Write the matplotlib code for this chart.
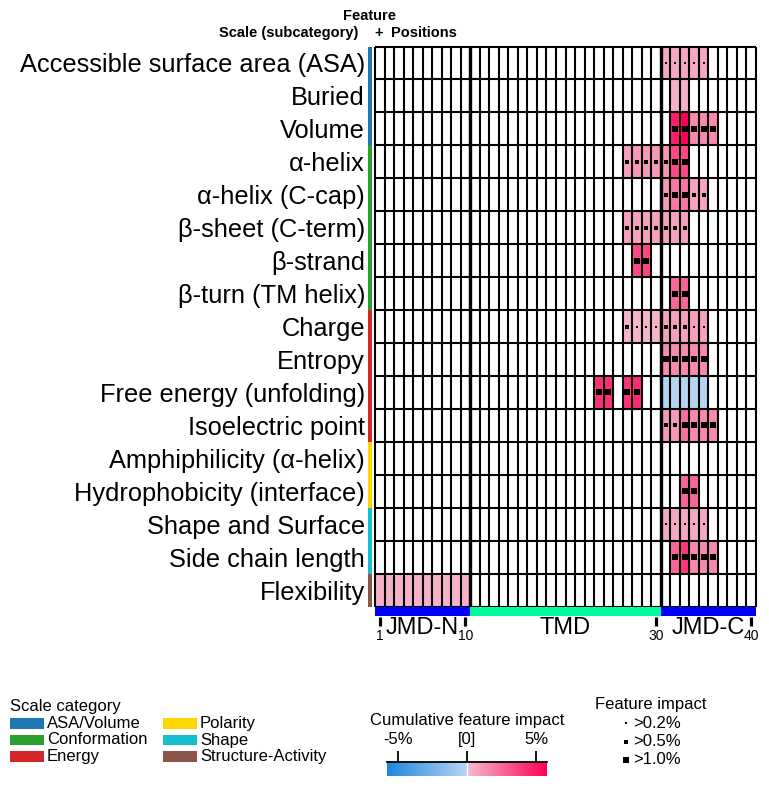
import numpy as np
import matplotlib
matplotlib.use("Agg")
import matplotlib.pyplot as plt
from matplotlib.colors import ListedColormap, to_rgb
from matplotlib.patches import Rectangle

plt.rcParams['font.family'] = ['Liberation Sans', 'DejaVu Sans']

# ---------------- data ----------------
features = ["Accessible surface area (ASA)", "Buried", "Volume", "α-helix",
            "α-helix (C-cap)", "β-sheet (C-term)", "β-strand", "β-turn (TM helix)",
            "Charge", "Entropy", "Free energy (unfolding)", "Isoelectric point",
            "Amphiphilicity (α-helix)", "Hydrophobicity (interface)",
            "Shape and Surface", "Side chain length", "Flexibility"]
feature_category = ["ASA/Volume"] * 3 + ["Conformation"] * 5 + ["Energy"] * 4 + \
                   ["Polarity"] * 2 + ["Shape"] * 2 + ["Structure-Activity"]
categories = ["ASA/Volume", "Conformation", "Energy", "Polarity", "Shape", "Structure-Activity"]
category_colors = ["#1f77b4", "#2ca02c", "#d62728", "#FFD700", "#17becf", "#8c564b"]

n_positions = 40
regions = ["JMD-N", "TMD", "JMD-C"]
region_start = [1, 11, 31]
region_stop = [10, 30, 40]
region_colors = ["blue", "mediumspringgreen", "blue"]
tick_positions = [1, 10, 30, 40]

# cells: feature index, position, cumulative impact (%), feature impact level (0 none, 1 >0.2, 2 >0.5, 3 >1.0)
cell_feature = [0, 0, 0, 0, 0,
                1, 1,
                2, 2, 2, 2, 2,
                3, 3, 3, 3, 3, 3, 3,
                4, 4, 4, 4, 4,
                5, 5, 5, 5, 5, 5, 5,
                6, 6,
                7, 7,
                8, 8, 8, 8, 8, 8, 8, 8, 8,
                9, 9, 9, 9, 9,
                10, 10, 10, 10, 10, 10, 10, 10, 10,
                11, 11, 11, 11, 11, 11,
                13, 13,
                14, 14, 14, 14, 14,
                15, 15, 15, 15, 15,
                16, 16, 16, 16, 16, 16, 16, 16, 16, 16]
cell_position = [31, 32, 33, 34, 35,
                 32, 33,
                 32, 33, 34, 35, 36,
                 27, 28, 29, 30, 31, 32, 33,
                 31, 32, 33, 34, 35,
                 27, 28, 29, 30, 31, 32, 33,
                 28, 29,
                 32, 33,
                 27, 28, 29, 30, 31, 32, 33, 34, 35,
                 31, 32, 33, 34, 35,
                 24, 25, 27, 28, 31, 32, 33, 34, 35,
                 31, 32, 33, 34, 35, 36,
                 33, 34,
                 31, 32, 33, 34, 35,
                 32, 33, 34, 35, 36,
                 1, 2, 3, 4, 5, 6, 7, 8, 9, 10]
cell_impact = [0.5, 0.5, 0.5, 0.5, 0.5,
               0.3, 0.3,
               4.8, 5.8, 1.5, 1.5, 1.5,
               0.8, 1.0, 1.0, 1.0, 1.1, 3.5, 3.5,
               1.0, 2.0, 2.0, 0.7, 0.7,
               0.8, 0.8, 0.8, 0.8, 0.8, 0.8, 0.8,
               3.5, 3.5,
               2.6, 2.6,
               0.2, 0.2, 0.2, 0.2, 0.8, 0.8, 0.8, 0.8, 0.8,
               1.45, 1.45, 1.45, 1.45, 1.45,
               4.2, 4.2, 4.2, 4.4, -0.1, -0.1, -0.1, -0.1, -0.1,
               1.0, 1.0, 2.3, 1.5, 1.5, 1.5,
               2.6, 2.6,
               0.5, 0.5, 0.5, 0.5, 0.5,
               2.6, 4.0, 1.5, 1.5, 1.5,
               0.3, 0.3, 0.3, 0.3, 0.3, 0.3, 0.3, 0.3, 0.3, 0.3]
cell_level = [1, 1, 1, 1, 1,
              0, 0,
              3, 3, 3, 3, 3,
              2, 2, 2, 2, 2, 3, 3,
              2, 3, 3, 2, 2,
              2, 2, 2, 2, 2, 2, 2,
              3, 3,
              3, 3,
              2, 1, 1, 1, 2, 2, 2, 1, 1,
              3, 3, 3, 3, 3,
              3, 3, 3, 3, 0, 0, 0, 0, 0,
              2, 2, 3, 3, 3, 3,
              3, 3,
              1, 1, 1, 1, 1,
              3, 3, 3, 3, 3,
              0, 0, 0, 0, 0, 0, 0, 0, 0, 0]
vmax = 5.8
impact_levels = [">0.2%", ">0.5%", ">1.0%"]

# ---------------- colormap ----------------
def ramp(c0, c1, n):
    a, b = np.array(to_rgb(c0)), np.array(to_rgb(c1))
    t = np.linspace(0, 1, n)[:, None]
    return a + (b - a) * t

cmap = ListedColormap(np.vstack([ramp("#1f86e0", "#b8d6f0", 128),
                                 ramp("#f4bacd", "#ff0055", 128)]))

# ---------------- figure ----------------
W, H = 769, 786
fig = plt.figure(figsize=(W / 100, H / 100), dpi=100)


def px_axes(x0, y0, x1, y1):
    return fig.add_axes([x0 / W, 1 - y1 / H, (x1 - x0) / W, (y1 - y0) / H])


nrow = len(features)
ax = px_axes(375, 46.5, 756, 606.5)
data = np.full((nrow, n_positions), np.nan)
for f, p, v in zip(cell_feature, cell_position, cell_impact):
    data[f, p - 1] = v
ax.imshow(np.ma.masked_invalid(data), cmap=cmap, vmin=-vmax, vmax=vmax, aspect='auto',
          extent=(0.5, n_positions + 0.5, nrow - 0.5, -0.5), interpolation='nearest')
ax.set_xlim(0.5, n_positions + 0.5)
ax.set_ylim(nrow - 0.5, -0.5)

xs = np.arange(0.5, n_positions + 1)
ax.vlines(xs, -0.5, nrow - 0.5, color='black', lw=1.5, clip_on=False)
ax.vlines([10.5, 30.5], -0.5, nrow - 0.5, color='black', lw=2.4, clip_on=False)
ax.hlines(np.arange(-0.5, nrow), 0.5, n_positions + 0.5, color='black', lw=1.5, clip_on=False)

lvl_size = {1: 1.5, 2: 2.3, 3: 3.7}
for lv in (1, 2, 3):
    px = [p for p, l in zip(cell_position, cell_level) if l == lv]
    py = [f for f, l in zip(cell_feature, cell_level) if l == lv]
    ax.scatter(px, py, marker='s', s=lvl_size[lv] ** 2, c='black', linewidths=0, zorder=5)

for i, cat in enumerate(feature_category):
    col = category_colors[categories.index(cat)]
    ax.add_patch(Rectangle((-0.235, i - 0.5), 0.42, 1, color=col, clip_on=False, lw=0))

ax.set_xticks([])
ax.set_yticks(range(nrow))
ax.set_yticklabels(features, fontsize=18.3)
ax.tick_params(axis='y', length=0, pad=7.2)
for s in ax.spines.values():
    s.set_visible(False)

# header
fig.text(370 / W, 1 - 16 / H, "Feature", ha='center', va='center', fontsize=10.5, fontweight='bold')
fig.text(358 / W, 1 - 33 / H, "Scale (subcategory)", ha='right', va='center', fontsize=10.5, fontweight='bold')
fig.text(379 / W, 1 - 33 / H, "+", ha='center', va='center', fontsize=10.5, fontweight='bold')
fig.text(391 / W, 1 - 33 / H, "Positions", ha='left', va='center', fontsize=10.5, fontweight='bold')

# region bar
axb = px_axes(375, 606.5, 756, 660)
axb.set_xlim(0.5, n_positions + 0.5)
axb.set_ylim(660, 606.5)
axb.axis('off')
for name, a, b, c in zip(regions, region_start, region_stop, region_colors):
    axb.add_patch(Rectangle((a - 0.5, 607.3), b - a + 1, 8.4, color=c, lw=0))
    axb.text((a + b) / 2, 628, name, ha='center', va='center', fontsize=17)
axb.vlines(tick_positions, 617, 626, color='black', lw=2.3)
for t in tick_positions:
    axb.text(t, 636, str(t), ha='center', va='center', fontsize=10)

# overlay for legends
ov = fig.add_axes([0, 0, 1, 1])
ov.set_xlim(0, W)
ov.set_ylim(H, 0)
ov.axis('off')

ov.text(10, 706, "Scale category", ha='left', va='center', fontsize=12)
for k, (cat, col) in enumerate(zip(categories, category_colors)):
    cx = 10 if k < 3 else 163
    cy = 723.5 + 16.5 * (k % 3)
    ov.add_patch(Rectangle((cx, cy - 5.2), 33.5, 10.4, color=col, lw=0))
    ov.text(cx + 37, cy, cat, ha='left', va='center', fontsize=12)

ov.text(467, 721, "Cumulative feature impact", ha='center', va='center', fontsize=12)

ov.text(595, 705, "Feature impact", ha='left', va='center', fontsize=12)
leg_size = [1.9, 2.9, 4.3]
for k, (lab, ms) in enumerate(zip(impact_levels, leg_size)):
    yy = 723 + 18.5 * k
    ov.scatter([626], [yy], marker='s', s=ms ** 2, c='black', linewidths=0)
    ov.text(633, yy, lab, ha='left', va='center', fontsize=12)

# colorbar
cax = px_axes(387, 762, 547, 776)
grad = np.linspace(-vmax, vmax, 512)[None, :]
cax.imshow(grad, cmap=cmap, vmin=-vmax, vmax=vmax, aspect='auto',
           extent=(-vmax, vmax, 0, 1), interpolation='bilinear')
cax.axvline(0, color='white', lw=1)
cax.set_xlim(-vmax, vmax)
cax.set_yticks([])
cax.set_xticks([-5, 0, 5])
cax.set_xticklabels(["-5%", "[0]", "5%"], fontsize=12)
cax.xaxis.set_ticks_position('top')
cax.tick_params(axis='x', length=8, width=1.3, pad=3)
for name, s in cax.spines.items():
    s.set_visible(name == 'top')
cax.spines['top'].set_linewidth(1.3)

fig.savefig("out.png", dpi=100)
